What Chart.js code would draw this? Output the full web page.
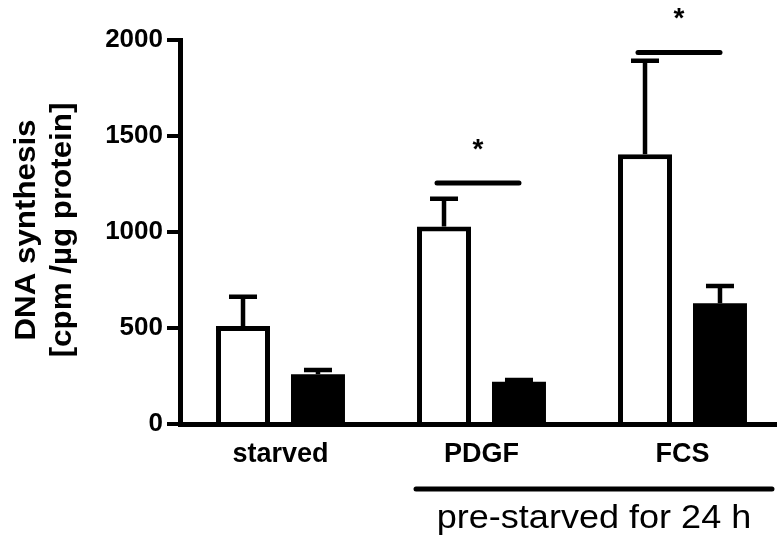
<!DOCTYPE html>
<html>
<head>
<meta charset="utf-8">
<script src="https://cdn.jsdelivr.net/npm/chart.js@4"></script>
<style>
  html, body { margin: 0; padding: 0; background: #fff; overflow: hidden; }
  #wrap { width: 783px; height: 538px; }
</style>
</head>
<body>
<div id="wrap"><canvas id="dnaChart" width="783" height="538"></canvas></div>
<script>
const categories = ['starved', 'PDGF', 'FCS'];
const openMeans = [510, 1028, 1405];
const openErr = [153, 145, 487];
const filledMeans = [259, 220, 629];
const filledErr = [22, 9, 90];
const yTicks = [0, 500, 1000, 1500, 2000];
const sigLevels = [null, 1255, 1935];
const bracketLabel = 'pre-starved for 24 h';

const FONT = '"Liberation Sans", Arial, sans-serif';

const errorBars = {
  id: 'errorBars',
  afterDatasetsDraw(chart) {
    const ctx = chart.ctx;
    const y = chart.scales.y;
    const errs = [openErr, filledErr];
    const means = [openMeans, filledMeans];
    ctx.save();
    ctx.strokeStyle = '#000';
    ctx.lineWidth = 4.5;
    chart.data.datasets.forEach((ds, di) => {
      chart.getDatasetMeta(di).data.forEach((bar, i) => {
        const top = y.getPixelForValue(means[di][i] + errs[di][i]);
        ctx.beginPath();
        ctx.moveTo(bar.x, bar.y);
        ctx.lineTo(bar.x, top);
        ctx.moveTo(bar.x - 14, top);
        ctx.lineTo(bar.x + 14, top);
        ctx.stroke();
      });
    });
    ctx.restore();
  }
};

const annotations = {
  id: 'annotations',
  afterDraw(chart) {
    const ctx = chart.ctx;
    const y = chart.scales.y;
    const open = chart.getDatasetMeta(0).data;
    const filled = chart.getDatasetMeta(1).data;
    ctx.save();
    ctx.strokeStyle = '#000';
    ctx.fillStyle = '#000';
    ctx.lineCap = 'round';
    ctx.lineWidth = 5;

    // significance lines + stars
    sigLevels.forEach((lvl, i) => {
      if (lvl == null) return;
      const py = y.getPixelForValue(lvl);
      const x1 = open[i].x - 7;
      const x2 = filled[i].x;
      ctx.beginPath();
      ctx.moveTo(x1, py);
      ctx.lineTo(x2, py);
      ctx.stroke();
      ctx.font = 'bold 28px ' + FONT;
      ctx.textAlign = 'center';
      ctx.textBaseline = 'middle';
      ctx.fillText('*', (x1 + x2) / 2, py - 33);
    });

    // bottom bracket
    const bx1 = open[1].x - open[1].width / 2 - 1;
    const bx2 = filled[2].x + filled[2].width / 2 + 25;
    ctx.beginPath();
    ctx.moveTo(bx1, 489);
    ctx.lineTo(bx2, 489);
    ctx.stroke();
    ctx.font = '34px ' + FONT;
    ctx.textAlign = 'center';
    ctx.textBaseline = 'alphabetic';
    ctx.save();
    ctx.translate((bx1 + bx2) / 2, 528);
    ctx.scale(1.06, 1);
    ctx.fillText(bracketLabel, 0, 0);
    ctx.restore();

    // y axis title
    ctx.font = 'bold 29px ' + FONT;
    ctx.textAlign = 'center';
    ctx.textBaseline = 'alphabetic';
    ctx.save();
    ctx.translate(35, 230);
    ctx.rotate(-Math.PI / 2);
    ctx.scale(1.08, 1);
    ctx.fillText('DNA synthesis', 0, 0);
    ctx.restore();
    ctx.save();
    ctx.translate(71, 230);
    ctx.rotate(-Math.PI / 2);
    ctx.scale(1.08, 1);
    ctx.fillText('[cpm /\u00b5g protein]', 0, 0);
    ctx.restore();

    ctx.restore();
  }
};

new Chart(document.getElementById('dnaChart'), {
  type: 'bar',
  data: {
    labels: categories,
    datasets: [
      {
        label: 'open',
        data: openMeans,
        backgroundColor: '#fff',
        borderColor: '#000',
        borderWidth: 5,
        barPercentage: 0.72,
        categoryPercentage: 0.746
      },
      {
        label: 'filled',
        data: filledMeans,
        backgroundColor: '#000',
        borderWidth: 0,
        barPercentage: 0.72,
        categoryPercentage: 0.746
      }
    ]
  },
  options: {
    responsive: false,
    animation: false,
    devicePixelRatio: 1,
    layout: { padding: { top: 40, left: 0, right: 0, bottom: 0 } },
    plugins: {
      legend: { display: false },
      tooltip: { enabled: false }
    },
    scales: {
      x: {
        grid: { display: false },
        border: { display: true, color: '#000', width: 5 },
        ticks: {
          color: '#000',
          font: { family: FONT, size: 27, weight: 'bold' },
          padding: 6,
          maxRotation: 0
        },
        afterFit(scale) { scale.height = 114; }
      },
      y: {
        min: 0,
        max: 2000,
        afterBuildTicks(scale) { scale.ticks = yTicks.map(v => ({ value: v })); },
        grid: {
          display: true,
          drawOnChartArea: false,
          drawTicks: true,
          tickLength: 13,
          lineWidth: 4,
          color: '#000'
        },
        border: { display: true, color: '#000', width: 5 },
        ticks: {
          color: '#000',
          font: { family: FONT, size: 26, weight: 'bold' },
          padding: 4,
          callback: v => String(v)
        },
        afterFit(scale) { scale.width = 180; }
      }
    }
  },
  plugins: [errorBars, annotations]
});
</script>
</body>
</html>
